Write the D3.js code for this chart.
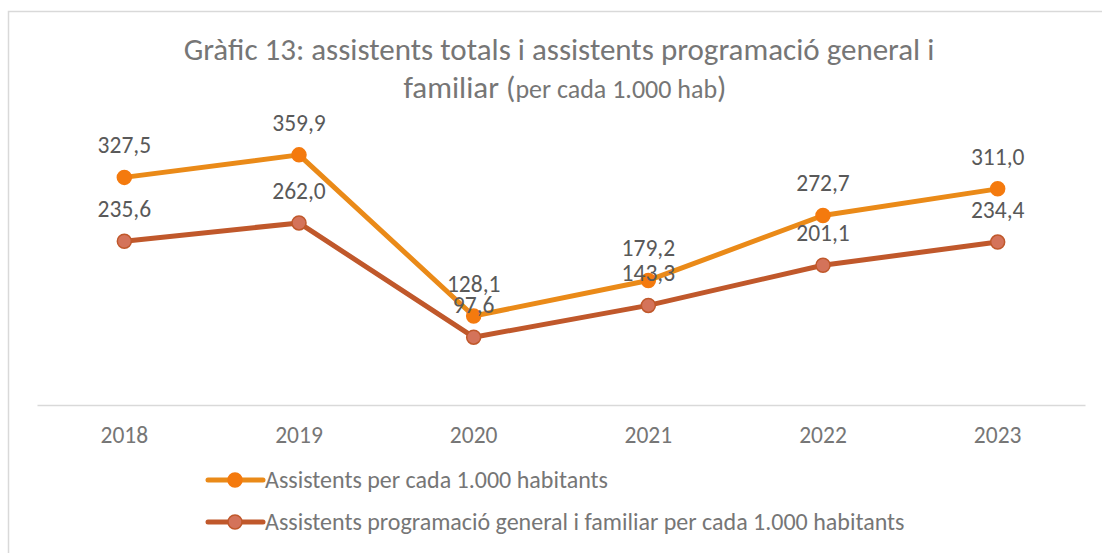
<!DOCTYPE html>
<html>
<head>
<meta charset="utf-8">
<script src="https://cdn.jsdelivr.net/npm/d3@7"></script>
<style>
  body { margin: 0; background: #fff; }
  svg text { font-family: Carlito, Calibri, Lato, sans-serif; fill: #595959; }
</style>
</head>
<body>
<svg width="1102" height="553"></svg>
<script>
var years = ["2018", "2019", "2020", "2021", "2022", "2023"];
var totals = [327.5, 359.9, 128.1, 179.2, 272.7, 311.0];
var general = [235.6, 262.0, 97.6, 143.3, 201.1, 234.4];
var seriesNames = ["Assistents per cada 1.000 habitants",
                   "Assistents programació general i familiar per cada 1.000 habitants"];

var series = [
    {name: seriesNames[0], values: totals, line: "#ea8a18", fill: "#f47a0e", stroke: "#f47a0e"},
    {name: seriesNames[1], values: general, line: "#c0582b", fill: "#d4735a", stroke: "#c0582b"}
];

var svg = d3.select("svg");
var fmt = v => d3.format(".1f")(v).replace(".", ",");
var lightText = "#767676";

// chart frame
svg.append("rect")
    .attr("x", 8.5).attr("y", 11.5)
    .attr("width", 1110).attr("height", 560)
    .attr("fill", "none").attr("stroke", "#d9d9d9").attr("stroke-width", 1.5);

// title
var title = svg.append("text").attr("text-anchor", "middle")
    .style("font-size", "31px").style("fill", lightText);
title.append("tspan").attr("x", 559).attr("y", 60)
    .text("Gràfic 13: assistents totals i assistents programació general i");
var t2 = title.append("tspan").attr("x", 565).attr("y", 98);
t2.append("tspan").text("familiar (");
t2.append("tspan").style("font-size", "26px").text("per cada 1.000 hab");
t2.append("tspan").text(")");

var xScale = d3.scaleBand().domain(years).range([37, 1085]);
var yScale = d3.scaleLinear().domain([0, 400]).range([405, 127]);
var cx = d => xScale(d) + xScale.bandwidth() / 2;

var xAxis = d3.axisBottom().scale(xScale).tickSize(0).tickPadding(21);
var xg = svg.append("g")
    .attr("transform", `translate(0,${yScale(0)})`)
    .call(xAxis);
xg.select(".domain").attr("stroke", "#d9d9d9").attr("stroke-width", 1.5);
xg.selectAll("text").style("font-size", "23.5px").style("fill", lightText);

var line = d3.line().x((d, i) => cx(years[i])).y(d => yScale(d));

series.forEach(s => {
    svg.append("path")
        .datum(s.values)
        .attr("d", line)
        .attr("fill", "none")
        .attr("stroke", s.line)
        .attr("stroke-width", 5)
        .attr("stroke-linejoin", "round");
    svg.selectAll(null)
        .data(s.values).enter().append("circle")
        .attr("cx", (d, i) => cx(years[i]))
        .attr("cy", d => yScale(d))
        .attr("r", 7)
        .attr("fill", s.fill)
        .attr("stroke", s.stroke)
        .attr("stroke-width", 1.5);
});

series.forEach(s => {
    svg.selectAll(null)
        .data(s.values).enter().append("text")
        .attr("x", (d, i) => cx(years[i]))
        .attr("y", d => yScale(d) - 24)
        .attr("text-anchor", "middle")
        .style("font-size", "23.5px")
        .text(d => fmt(d));
});

// legend
series.forEach((s, i) => {
    var ly = 480 + i * 42;
    var g = svg.append("g");
    g.append("line")
        .attr("x1", 208).attr("x2", 263).attr("y1", ly).attr("y2", ly)
        .attr("stroke", s.line).attr("stroke-width", 5).attr("stroke-linecap", "round");
    g.append("circle")
        .attr("cx", 235).attr("cy", ly).attr("r", 7)
        .attr("fill", s.fill).attr("stroke", s.stroke).attr("stroke-width", 1.5);
    g.append("text")
        .attr("x", 265).attr("y", ly + 8)
        .style("font-size", "24px")
        .style("fill", lightText)
        .text(s.name);
});
</script>
</body>
</html>
